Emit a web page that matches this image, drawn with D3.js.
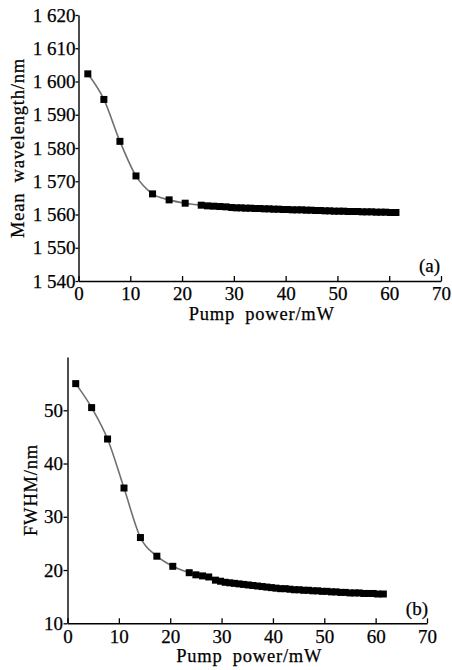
<!DOCTYPE html>
<html><head><meta charset="utf-8">
<script src="https://cdn.jsdelivr.net/npm/d3@7/dist/d3.min.js"></script>
<style>
html,body{margin:0;padding:0;background:#fff;}
text{font-family:"Liberation Serif","Times New Roman",serif;fill:#000;stroke:#000;stroke-width:0.25px;}
</style></head>
<body>
<svg id="c" width="452" height="670"></svg>
<script>
// ---- Data ----
const powerA = [1.8, 4.9, 8.0, 11.1, 14.3, 17.5, 20.6, 23.7, 24.9, 26.1, 27.3, 28.5, 29.6, 30.5, 31.4, 32.3, 33.2, 34.1, 35.0, 35.9, 36.8, 37.7, 38.6, 39.5, 40.4, 41.3, 42.2, 43.1, 44.0, 44.9, 45.8, 46.7, 47.6, 48.5, 49.4, 50.3, 51.2, 52.1, 53.0, 53.9, 54.8, 55.7, 56.6, 57.5, 58.4, 59.3, 60.2, 61.3];
const wavelengthA = [1602.3, 1594.6, 1582.0, 1571.6, 1566.2, 1564.4, 1563.4, 1562.8, 1562.6, 1562.5, 1562.4, 1562.3, 1562.1, 1562.0, 1562.0, 1561.9, 1561.9, 1561.8, 1561.8, 1561.7, 1561.7, 1561.6, 1561.6, 1561.5, 1561.5, 1561.4, 1561.4, 1561.4, 1561.3, 1561.3, 1561.2, 1561.2, 1561.1, 1561.1, 1561.0, 1561.0, 1561.0, 1560.9, 1560.9, 1560.9, 1560.8, 1560.8, 1560.8, 1560.7, 1560.7, 1560.7, 1560.6, 1560.6];

const powerB = [1.6, 4.7, 7.8, 11.0, 14.2, 17.4, 20.5, 23.7, 25.0, 26.3, 27.5, 28.8, 29.8, 30.7, 31.6, 32.5, 33.4, 34.3, 35.2, 36.1, 37.0, 37.9, 38.8, 39.7, 40.6, 41.5, 42.4, 43.3, 44.2, 45.1, 46.0, 46.9, 47.8, 48.7, 49.6, 50.5, 51.4, 52.3, 53.2, 54.1, 55.0, 55.9, 56.8, 57.7, 58.6, 59.5, 60.4, 61.5];
const fwhmB = [55.0, 50.5, 44.6, 35.4, 26.1, 22.6, 20.7, 19.5, 19.1, 18.9, 18.7, 18.1, 17.9, 17.7, 17.6, 17.5, 17.4, 17.3, 17.2, 17.1, 17.0, 16.9, 16.8, 16.7, 16.6, 16.5, 16.5, 16.4, 16.3, 16.3, 16.2, 16.2, 16.1, 16.1, 16.0, 16.0, 15.9, 15.9, 15.8, 15.8, 15.7, 15.7, 15.7, 15.6, 15.6, 15.6, 15.5, 15.5];

const xTicks = [0, 10, 20, 30, 40, 50, 60, 70];
const yTicksA = [1540, 1550, 1560, 1570, 1580, 1590, 1600, 1610, 1620];
const yTicksB = [10, 20, 30, 40, 50];
const xLabel = "Pump\u2002power/mW";
const yLabelA = "Mean\u2002wavelength/nm";
const yLabelB = "FWHM/nm";
const panelA = "(a)", panelB = "(b)";

// ---- Drawing ----
const svg = d3.select("#c");
svg.append("rect").attr("width",452).attr("height",670).attr("fill","#fff");

function fmtA(d){ const s = String(d); return s.slice(0,1) + " " + s.slice(1); }

function panel(cfg){
  const x = d3.scaleLinear().domain([0,70]).range([cfg.x0, cfg.x1]);
  const y = d3.scaleLinear().domain(cfg.yDomain).range([cfg.yBottom, cfg.yTop]);
  const g = svg.append("g");

  const xa = g.append("g").attr("transform",`translate(0,${cfg.yBottom})`)
    .call(d3.axisBottom(x).tickValues(xTicks).tickSizeInner(-5).tickSizeOuter(0).tickPadding(6));
  const ya = g.append("g").attr("transform",`translate(${cfg.x0},0)`)
    .call(d3.axisLeft(y).tickValues(cfg.yTicks).tickSizeInner(cfg.yTick).tickSizeOuter(0)
      .tickPadding(cfg.yPad).tickFormat(cfg.fmt));
  [xa, ya].forEach(a => {
    a.select(".domain").attr("stroke","#000").attr("stroke-width",1.4);
    a.selectAll(".tick line").attr("stroke","#000").attr("stroke-width",1.3);
    a.selectAll(".tick text").attr("font-size",19).attr("font-family","Liberation Serif").attr("fill","#000");
  });

  const line = d3.line().curve(d3.curveMonotoneX).x((d,i)=>x(cfg.xs[i])).y(d=>y(d));
  g.append("path").datum(cfg.ys).attr("d",line).attr("fill","none")
    .attr("stroke","#707070").attr("stroke-width",1.6);
  const s = 7;
  g.selectAll("rect.m").data(cfg.ys).join("rect").attr("class","m")
    .attr("x",(d,i)=>x(cfg.xs[i]) - s/2).attr("y",d=>y(d) - s/2)
    .attr("width",s).attr("height",s).attr("fill","#000");

  g.append("text").attr("x",(cfg.x0+cfg.x1)/2 + 2).attr("y",cfg.yBottom+39)
    .attr("text-anchor","middle").attr("font-size",18.5).attr("letter-spacing",0.8).text(xLabel);
  g.append("text").attr("transform",`translate(${cfg.ylx},${cfg.yly}) rotate(-90)`)
    .attr("text-anchor","middle").attr("font-size",18.5).attr("letter-spacing",0.8).text(cfg.yLabel);
  g.append("text").attr("x",cfg.px).attr("y",cfg.py).attr("text-anchor","end")
    .attr("font-size",19).text(cfg.panel);
}

panel({x0:78.5, x1:441, yTop:15, yBottom:281, yDomain:[1540,1620], yTicks:yTicksA,
  yTick:3, yPad:0, fmt:fmtA, xs:powerA, ys:wavelengthA,
  yLabel:yLabelA, ylx:24, yly:148, panel:panelA, px:440, py:272});
panel({x0:67.5, x1:427, yTop:357, yBottom:623.3, yDomain:[10,60], yTicks:yTicksB,
  yTick:4, yPad:0.5, fmt:d3.format("d"), xs:powerB, ys:fwhmB,
  yLabel:yLabelB, ylx:37, yly:490, panel:panelB, px:428, py:615});
</script>
</body></html>
